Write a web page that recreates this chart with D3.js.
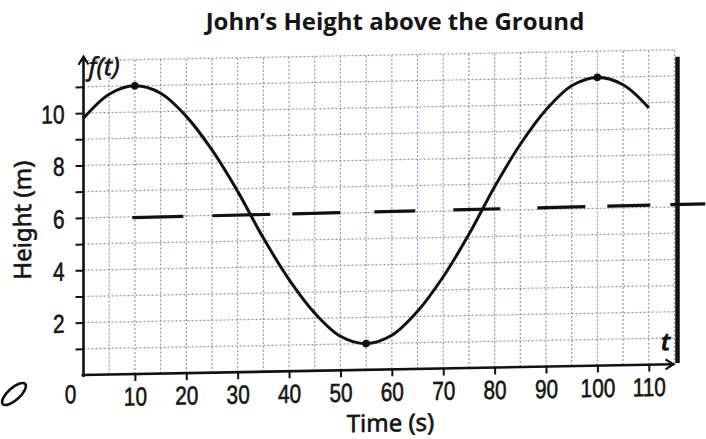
<!DOCTYPE html>
<html>
<head>
  <meta charset="utf-8">
  <title>John's Height above the Ground</title>
  <script src="https://d3js.org/d3.v7.min.js"></script>
  <style>
    body { margin: 0; background: white; }
    text { fill: #141414; }
    .heavy { stroke: #141414; stroke-width: 0.6px; }
  </style>
</head>
<body>
  <div id="graphContainer"></div>
  <script>
    // values
    var times = [0, 5, 10, 15, 20, 25, 30, 35, 40, 45, 50, 55, 60, 65, 70, 75, 80, 85, 90, 95, 100, 105, 110];
    var heights = [9.8, 10.7, 11, 10.7, 9.8, 8.5, 6.9, 5.1, 3.5, 2.2, 1.3, 1, 1.3, 2.2, 3.5, 5.1, 6.9, 8.5, 9.8, 10.7, 11, 10.7, 9.8];
    var markedTimes = [10, 55, 100];
    var markedHeights = [11, 1, 11];
    var midTimes = [9.5, 121];
    var midHeights = [5.97, 6.1];
    var xTickValues = [10, 20, 30, 40, 50, 60, 70, 80, 90, 100, 110];
    var yTickValues = [2, 4, 6, 8, 10];

    var width = 706;
    var height = 439;
    var numFont = "'Liberation Sans', Arimo, sans-serif";
    var squeeze = 0.8; // the book's digits are narrow

    var svg = d3.select("#graphContainer")
      .append("svg")
        .attr("width", width)
        .attr("height", height);

    svg.append("text")
      .attr("x", 395)
      .attr("y", 30)
      .attr("text-anchor", "middle")
      .style("font-family", "'Open Sans', sans-serif")
      .style("font-weight", "bold")
      .style("font-size", "24px")
      .text("John\u2019s Height above the Ground");

    var x = d3.scaleLinear().domain([0, 115]).range([0, 591]);
    var y = d3.scaleLinear().domain([0, 12]).range([314.4, 0]);

    // the scan is slightly sheared, so the plot group is skewed a touch
    var g = svg.append("g")
      .attr("transform", "translate(83.5,60.6) skewY(-1.05)");

    var grid = g.append("g")
      .attr("stroke", "#9591b6")
      .attr("stroke-width", 1.2)
      .attr("stroke-dasharray", "2,2");
    grid.selectAll("line.v")
      .data(d3.range(5, 116, 5))
      .join("line")
        .attr("class", "v")
        .attr("x1", function (d) { return x(d); })
        .attr("x2", function (d) { return x(d); })
        .attr("y1", y(0))
        .attr("y2", y(12));
    grid.selectAll("line.h")
      .data(d3.range(1, 13))
      .join("line")
        .attr("class", "h")
        .attr("x1", 0)
        .attr("x2", x(115))
        .attr("y1", function (d) { return y(d); })
        .attr("y2", function (d) { return y(d); });

    // axes
    var yAxis = d3.axisLeft(y)
      .tickValues(d3.range(1, 12))
      .tickSize(8)
      .tickFormat(function (d) { return yTickValues.indexOf(d) >= 0 ? d : ""; });
    var yg = g.append("g").call(yAxis);
    yg.select(".domain").remove();
    yg.selectAll("line").attr("stroke", "#111").attr("stroke-width", 2);
    yg.selectAll("text")
      .attr("class", "heavy")
      .attr("x", -19 / squeeze)
      .attr("dy", "0.36em")
      .attr("transform", "scale(" + squeeze + ",1)")
      .style("font-family", numFont)
      .style("font-size", "26px");

    var xAxis = d3.axisBottom(x)
      .tickValues(xTickValues)
      .tickSize(7)
      .tickPadding(6);
    var xg = g.append("g").attr("transform", "translate(0," + y(0) + ")").call(xAxis);
    xg.select(".domain").remove();
    xg.selectAll("line").attr("stroke", "#111").attr("stroke-width", 2);
    xg.selectAll("text")
      .attr("class", "heavy")
      .attr("transform", "scale(" + squeeze + ",1)")
      .style("font-family", numFont)
      .style("font-size", "26px");

    g.append("text")
      .attr("class", "heavy")
      .attr("transform", "translate(-13," + (y(0) + 28) + ") scale(" + squeeze + ",1)")
      .attr("text-anchor", "middle")
      .style("font-family", numFont)
      .style("font-size", "26px")
      .text("0");

    // axis lines with arrows
    g.append("line")
      .attr("x1", 0).attr("x2", 0)
      .attr("y1", y(0) + 2).attr("y2", y(12) - 3)
      .attr("stroke", "#111").attr("stroke-width", 2.6);
    g.append("path")
      .attr("d", "M-5," + (y(12) + 4) + "L0," + (y(12) - 4) + "L5," + (y(12) + 4))
      .attr("fill", "none").attr("stroke", "#111").attr("stroke-width", 2.2);
    g.append("line")
      .attr("x1", -2).attr("x2", x(115) - 1)
      .attr("y1", y(0)).attr("y2", y(0))
      .attr("stroke", "#111").attr("stroke-width", 2.6);
    g.append("path")
      .attr("d", "M" + (x(115) - 9) + "," + (y(0) - 5) + "L" + (x(115) - 1) + "," + y(0) + "L" + (x(115) - 9) + "," + (y(0) + 5))
      .attr("fill", "none").attr("stroke", "#111").attr("stroke-width", 2.2);

    g.append("text")
      .attr("class", "heavy")
      .attr("x", 5)
      .attr("y", y(12) + 15)
      .style("font-family", "'Noto Sans', sans-serif")
      .style("font-style", "italic")
      .style("font-size", "25px")
      .text("f(t)");
    g.append("text")
      .attr("x", x(115) - 14)
      .attr("y", y(0) - 14)
      .style("font-family", "'Noto Sans', sans-serif")
      .style("font-style", "italic")
      .style("font-weight", "bold")
      .style("font-size", "25px")
      .text("t");

    // midline, drawn in dashes
    var line = d3.line()
      .x(function (d) { return x(d[0]); })
      .y(function (d) { return y(d[1]); });
    g.append("path")
      .datum(d3.zip(midTimes, midHeights))
      .attr("d", line)
      .attr("fill", "none")
      .attr("stroke", "#111")
      .attr("stroke-width", 3.2)
      .attr("stroke-dasharray", "51,29,58,22,48,34,41,38,47,37,48,22,43,20,60");

    // the height curve
    var curve = d3.line()
      .x(function (d) { return x(d[0]); })
      .y(function (d) { return y(d[1]); })
      .curve(d3.curveCatmullRom.alpha(0.5));
    g.append("path")
      .datum(d3.zip(times, heights))
      .attr("d", curve)
      .attr("fill", "none")
      .attr("stroke", "#111")
      .attr("stroke-width", 3);

    g.selectAll("circle.mark")
      .data(d3.zip(markedTimes, markedHeights))
      .join("circle")
        .attr("class", "mark")
        .attr("cx", function (d) { return x(d[0]); })
        .attr("cy", function (d) { return y(d[1]); })
        .attr("r", 3.8)
        .attr("fill", "#111");

    // page edge in the scan
    g.append("line")
      .attr("x1", 594).attr("x2", 594)
      .attr("y1", 7).attr("y2", y(0) - 1)
      .attr("stroke", "#111").attr("stroke-width", 4.5);

    g.append("text")
      .attr("class", "heavy")
      .attr("x", 307)
      .attr("y", y(0) + 62)
      .attr("text-anchor", "middle")
      .style("font-family", "'Noto Sans', sans-serif")
      .style("font-size", "24px")
      .text("Time (s)");
    g.append("text")
      .attr("class", "heavy")
      .attr("transform", "translate(-53," + y(5.95) + ") rotate(-90)")
      .attr("text-anchor", "middle")
      .style("font-family", "'Noto Sans', sans-serif")
      .style("font-size", "24px")
      .text("Height (m)");

    // pen mark in the lower left corner
    svg.append("ellipse")
      .attr("cx", 14)
      .attr("cy", 394)
      .attr("rx", 15)
      .attr("ry", 6)
      .attr("transform", "rotate(-42,14,394)")
      .attr("fill", "none")
      .attr("stroke", "#111")
      .attr("stroke-width", 2.6);
  </script>
</body>
</html>
